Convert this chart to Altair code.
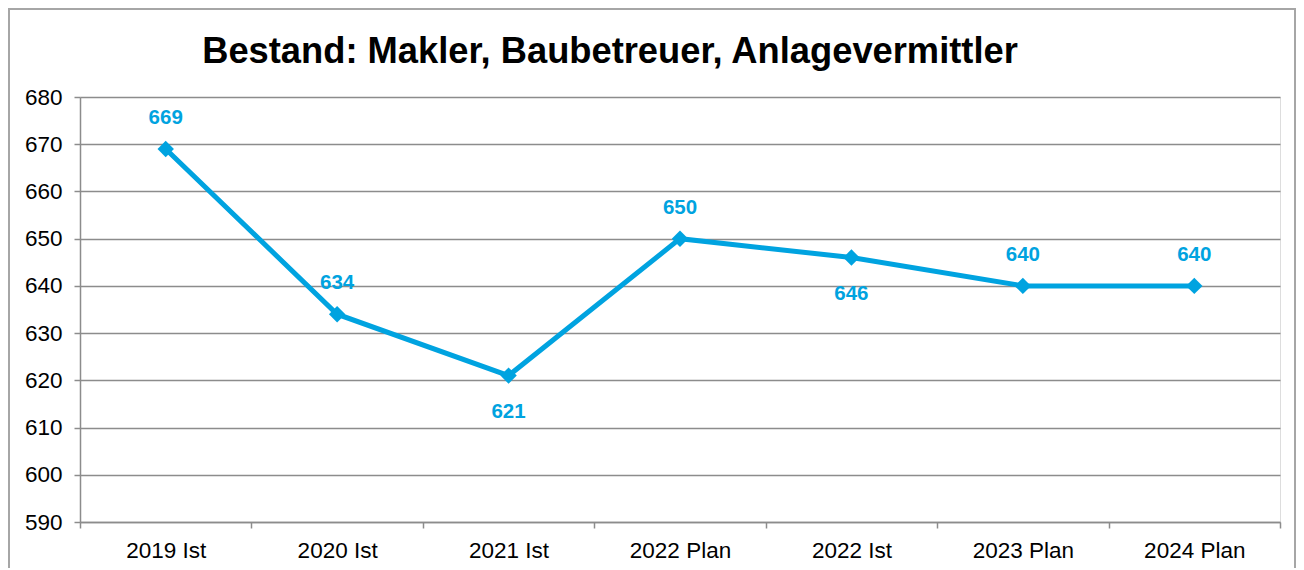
import altair as alt
import pandas as pd

title_text = "Bestand: Makler, Baubetreuer, Anlagevermittler"
categories = ["2019 Ist", "2020 Ist", "2021 Ist", "2022 Plan", "2022 Ist", "2023 Plan", "2024 Plan"]
values = [669, 634, 621, 650, 646, 640, 640]
label_side = ["above", "above", "below", "above", "below", "above", "above"]
y_ticks = [590, 600, 610, 620, 630, 640, 650, 660, 670, 680]

df = pd.DataFrame({"cat": categories, "val": values, "side": label_side})

BLUE = "#00A3E0"
FONT = "Liberation Sans"

x_enc = alt.X("cat:N", sort=categories, title=None,
              scale=alt.Scale(paddingInner=0, paddingOuter=0),
              axis=alt.Axis(labelAngle=0, labelFontSize=22.5, labelColor="black", labelFont=FONT,
                            tickBand="extent", tickSize=6, tickColor="#8c8c8c", tickWidth=1.5,
                            domainColor="#8c8c8c", domainWidth=1.5, labelPadding=11, grid=False))
y_enc = alt.Y("val:Q", title=None,
              scale=alt.Scale(domain=[590, 680], nice=False, zero=False),
              axis=alt.Axis(values=y_ticks, labelFontSize=22.5, labelColor="black", labelFont=FONT,
                            tickSize=6, tickColor="#8c8c8c", tickWidth=1.5,
                            domainColor="#8c8c8c", domainWidth=1.5, labelPadding=12,
                            gridColor="#8c8c8c", gridWidth=1.5, gridOpacity=1))

base = alt.Chart(df)

line = base.mark_line(color=BLUE, strokeWidth=5).encode(x=x_enc, y=y_enc)
points = base.mark_point(shape="diamond", filled=True, color=BLUE, size=270, opacity=1).encode(x=x_enc, y=y_enc)

lab_above = base.transform_filter(alt.datum.side == "above").mark_text(
    color=BLUE, fontSize=20.5, fontWeight="bold", font=FONT, dy=-31, baseline="middle"
).encode(x=x_enc, y=y_enc, text="val:Q")
lab_below = base.transform_filter(alt.datum.side == "below").mark_text(
    color=BLUE, fontSize=20.5, fontWeight="bold", font=FONT, dy=36, baseline="middle"
).encode(x=x_enc, y=y_enc, text="val:Q")

single = alt.Chart(pd.DataFrame({"t": [title_text]}))
border = single.mark_rect(
    fill=None, stroke="#a6a6a6", strokeWidth=2, clip=False
).encode(x=alt.value(-71), x2=alt.value(1215), y=alt.value(-88), y2=alt.value(480))

title = single.mark_text(
    font=FONT, fontSize=36.3, fontWeight="bold", color="black", align="center",
    baseline="alphabetic", clip=False
).encode(x=alt.value(530), y=alt.value(-34), text="t:N")

chart = alt.layer(border, title, line, points, lab_above, lab_below).properties(
    width=1200, height=425,
    padding={"left": 72, "top": 89, "right": 16, "bottom": 46},
    autosize=alt.AutoSizeParams(type="none"),
).configure_view(stroke=None).configure(background="white")

chart.save("out.html", embed_options={"renderer": "svg", "actions": False})
